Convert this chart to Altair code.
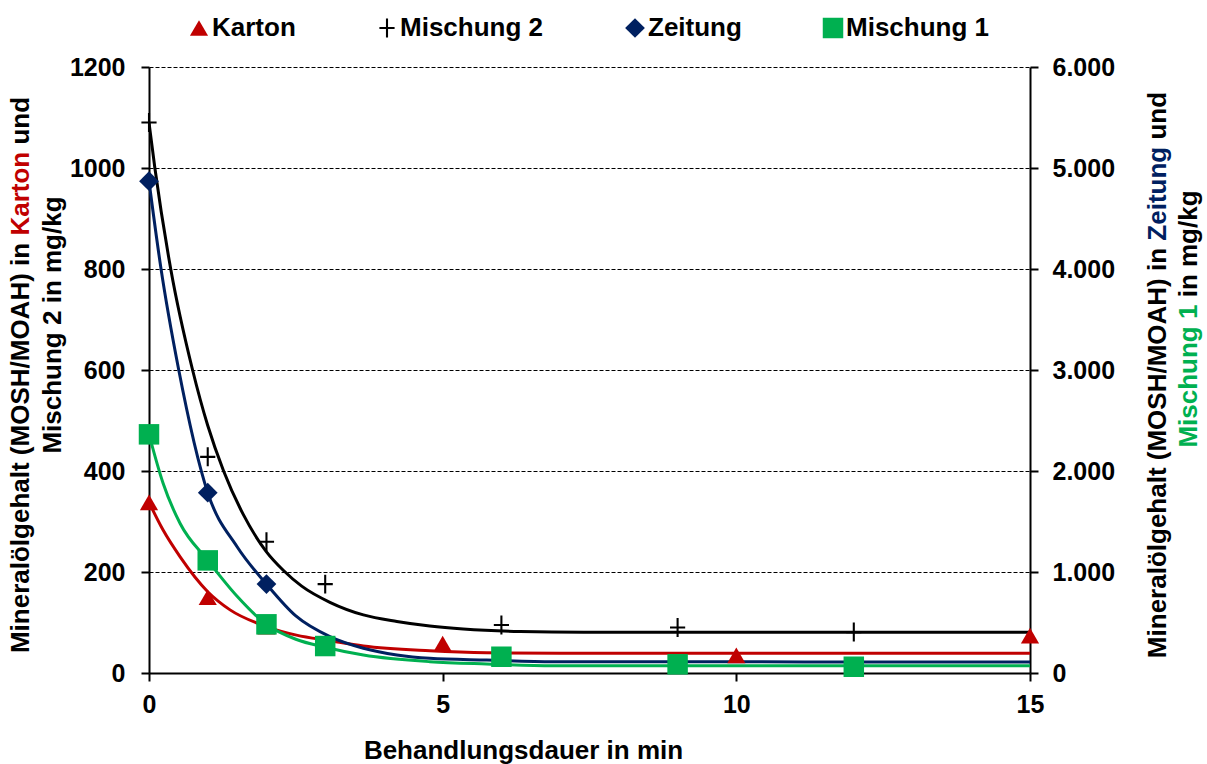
import altair as alt
import pandas as pd

FONT = "Liberation Sans"

# Series, colours and marker shapes
SERIES = ["Karton", "Mischung 2", "Zeitung", "Mischung 1"]
COLORS = ["#C00000", "#000000", "#002060", "#00B050"]
PLUS = "M-0.8,-0.11H-0.11V-1H0.11V-0.11H0.8V0.11H0.11V1H-0.11V0.11H-0.8Z"
SHAPES = ["triangle-up", PLUS, "diamond", "square"]
SIZES = [330, 420, 200, 210]

# Measured values (Karton / Mischung 2 on the left axis, Zeitung / Mischung 1 on the right axis)
karton_t = [0, 1, 2, 5, 10, 15]
karton_v = [338, 150, 92, 58, 35, 74]
misch2_t = [0, 1, 2, 3, 6, 9, 12]
misch2_v = [1090, 428, 260, 176, 95, 90, 81]
zeitung_t = [0, 1, 2]
zeitung_v = [4870, 1785, 880]
misch1_t = [0, 1, 2, 3, 6, 9, 12]
misch1_v = [2363, 1115, 482, 267, 161, 86, 62]

# Fitted decay curves
karton_fit_t = [0, 0.24, 0.53, 1.0, 1.38, 2.0, 2.51, 3.08, 3.65, 4.78, 5.75, 7, 15]
karton_fit_v = [338, 283, 230, 161, 125, 92, 75, 64, 53.5, 44, 40, 39, 39]
misch2_fit_t = [0, 0.1, 0.37, 0.74, 1.0, 1.27, 1.6, 2.0, 2.29, 2.6, 3.08, 3.65, 4.22, 4.78, 5.35, 6.32, 7.4, 15]
misch2_fit_v = [1090, 1000, 800, 601, 490, 400, 315, 240, 203, 172, 140, 115, 102, 93, 87, 82, 80.6, 80.6]
zeitung_fit_t = [0, 0.2, 0.5, 1.0, 1.5, 2.0, 2.5, 3.08, 3.65, 4.22, 4.78, 5.75, 6.88, 15]
zeitung_fit_v = [4870, 4020, 3020, 1785, 1250, 880, 565, 360, 245, 178, 145, 128, 112, 109]
misch1_fit_t = [0, 0.24, 0.53, 1.0, 1.5, 2.0, 2.5, 3.0, 3.65, 4.78, 5.75, 6.88, 15]
misch1_fit_v = [2363, 1878, 1480, 1115, 760, 480, 334, 255, 178, 112, 89, 72, 72]

# Tick values
x_ticks = [0, 5, 10, 15]
left_ticks = [0, 200, 400, 600, 800, 1000, 1200]
right_ticks = [0, 1000, 2000, 3000, 4000, 5000, 6000]

W_PLOT, H_PLOT = 881, 606
TITLE_SIZE = 26


def frame(name, t, v):
    return pd.DataFrame({"t": t, "v": v, "Serie": name})


X = alt.X(
    "t:Q",
    scale=alt.Scale(domain=[0, 15], nice=False, zero=False),
    axis=alt.Axis(
        values=x_ticks, title="Behandlungsdauer in min", grid=False,
        labelPadding=11, titleX=374, titleY=85, titleAnchor="middle",
        titleAlign="center", titleBaseline="alphabetic",
    ),
)
Y_LEFT = alt.Scale(domain=[0, 1200], nice=False, zero=True)
Y_RIGHT = alt.Scale(domain=[0, 6000], nice=False, zero=True)

left_axis = alt.Axis(
    orient="left", values=left_ticks, format="d", title=None, grid=True,
    gridDash=[4, 2], gridColor="#000000", gridWidth=1, labelPadding=16,
)
right_axis = alt.Axis(
    orient="right", values=right_ticks, title=None, grid=False, labelPadding=14,
    labelExpr="replace(format(datum.value, ',.0f'), ',', '.')",
)


def curve(t, v, color, scale, axis=None):
    return alt.Chart(frame("", t, v)).mark_line(
        color=color, strokeWidth=3, interpolate="monotone", clip=True
    ).encode(x=X, y=alt.Y("v:Q", scale=scale, axis=axis))


legend = alt.Legend(
    title=None, orient="none", direction="horizontal", legendX=37, legendY=-52,
    padding=0, labelFont=FONT, labelFontSize=26, labelFontWeight="bold",
    labelColor="#000000", symbolSize=140, columnPadding=78, labelOffset=0,
    symbolStrokeWidth=0,
)
color_enc = alt.Color("Serie:N", scale=alt.Scale(domain=SERIES, range=COLORS), legend=legend)
shape_enc = alt.Shape("Serie:N", scale=alt.Scale(domain=SERIES, range=SHAPES), legend=legend)
size_enc = alt.Size("Serie:N", scale=alt.Scale(domain=SERIES, range=SIZES), legend=None)


def markers(df, scale):
    return alt.Chart(df).mark_point(filled=True, opacity=1, strokeWidth=0).encode(
        x=X, y=alt.Y("v:Q", scale=scale, axis=None),
        color=color_enc, shape=shape_enc, size=size_enc,
    )


left_pts = pd.concat([frame("Karton", karton_t, karton_v), frame("Mischung 2", misch2_t, misch2_v)])
right_pts = pd.concat([frame("Zeitung", zeitung_t, zeitung_v), frame("Mischung 1", misch1_t, misch1_v)])

# Axis titles with coloured words (Arial Bold advance widths, per 1000 em)
CHAR_W = {
    " ": 278, "(": 333, ")": 333, "/": 278, "1": 556, "2": 556, "A": 722, "H": 722,
    "K": 722, "M": 833, "O": 778, "S": 667, "Z": 611, "a": 556, "c": 556, "d": 611,
    "e": 556, "g": 611, "h": 611, "i": 278, "k": 556, "l": 278, "m": 889, "n": 611,
    "o": 611, "r": 389, "s": 556, "t": 333, "u": 611, "ö": 611,
}
ANCHOR = alt.Data(values=[{}])


def text_width(s):
    return sum(CHAR_W.get(c, 556) for c in s) * TITLE_SIZE / 1000


def vertical_line(segments, cx, cy):
    total = sum(text_width(s) for s, _ in segments)
    pos = cy + total / 2
    parts = []
    for s, col in segments:
        lead = len(s) - len(s.lstrip(" "))
        start = pos - text_width(s[:lead])
        parts.append(
            alt.Chart(ANCHOR).mark_text(
                text=s.strip(), angle=270, align="left", baseline="middle",
                font=FONT, fontSize=TITLE_SIZE, fontWeight="bold", color=col,
            ).encode(x=alt.value(cx), y=alt.value(start))
        )
        pos -= text_width(s)
    return parts


titles = (
    vertical_line([("Mineralölgehalt (MOSH/MOAH) in ", "#000000"), ("Karton", COLORS[0]), (" und", "#000000")], -128, 308)
    + vertical_line([("Mischung 2 in mg/kg", "#000000")], -96, 258)
    + vertical_line([("Mineralölgehalt (MOSH/MOAH) in ", "#000000"), ("Zeitung", COLORS[2]), (" und", "#000000")], 1009, 308)
    + vertical_line([("Mischung 1", COLORS[3]), (" in mg/kg", "#000000")], 1040, 252)
)

layers = [
    curve(karton_fit_t, karton_fit_v, COLORS[0], Y_LEFT, left_axis),
    curve(misch2_fit_t, misch2_fit_v, COLORS[1], Y_LEFT),
    curve(zeitung_fit_t, zeitung_fit_v, COLORS[2], Y_RIGHT, right_axis),
    curve(misch1_fit_t, misch1_fit_v, COLORS[3], Y_RIGHT),
    markers(left_pts, Y_LEFT),
    markers(right_pts, Y_RIGHT),
] + titles

chart = (
    alt.layer(*layers)
    .resolve_scale(y="independent")
    .properties(
        width=W_PLOT, height=H_PLOT,
        padding={"left": 149, "top": 67, "right": 177, "bottom": 91},
        autosize=alt.AutoSizeParams(type="none"),
        background="#ffffff",
    )
    .configure_view(stroke=None)
    .configure_axis(
        domainColor="#000000", domainWidth=2, tickColor="#000000", tickWidth=2,
        tickSize=8, labelFont=FONT, labelFontSize=25, labelFontWeight="bold",
        labelColor="#000000", labelFlush=False, labelOverlap=False,
        titleFont=FONT, titleFontSize=TITLE_SIZE, titleFontWeight="bold", titleColor="#000000",
    )
)

chart.save("out.html", embed_options={"renderer": "svg", "actions": False})
